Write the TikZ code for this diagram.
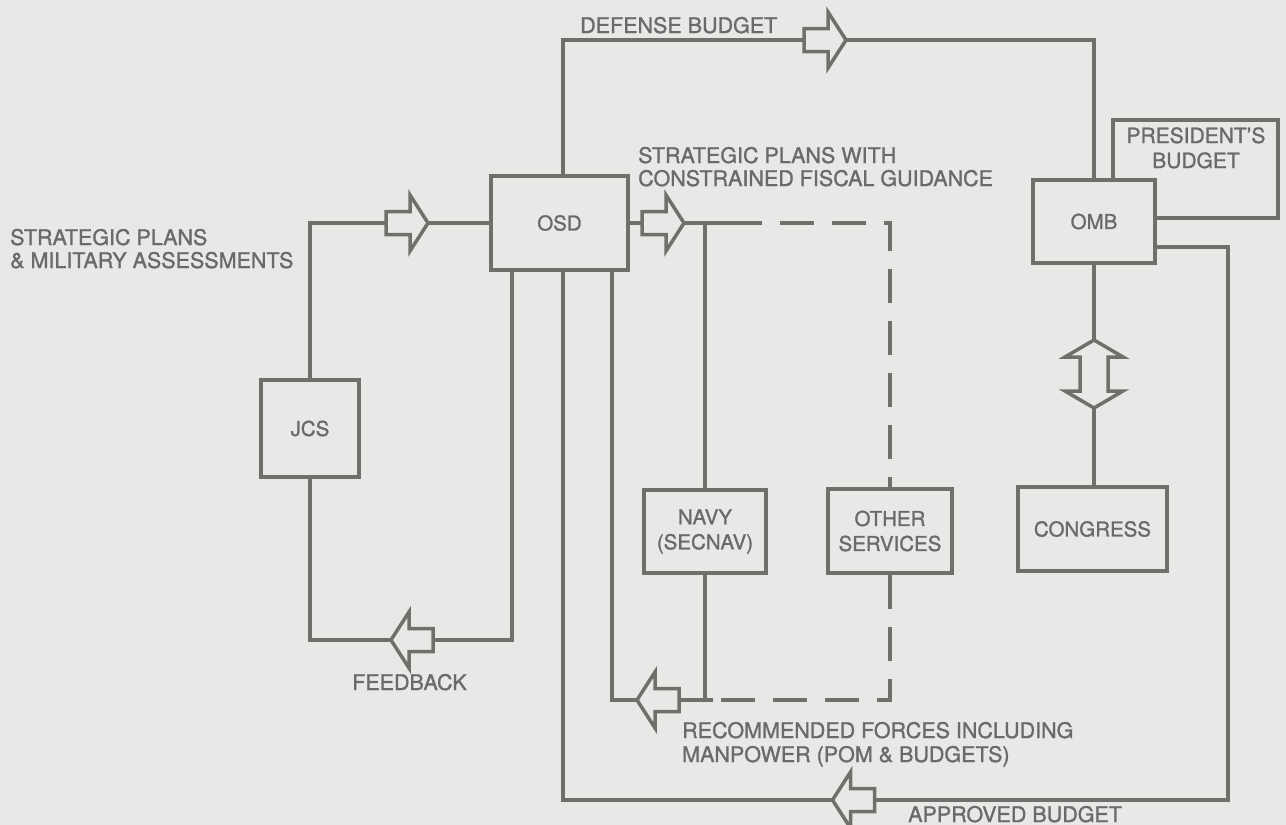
\documentclass[tikz,border=0pt]{standalone}
\usepackage{fontspec}
\setmainfont{TeX Gyre Heros}[FakeBold=1.2]
\definecolor{bgc}{HTML}{E8E9E7}
\definecolor{linec}{HTML}{6E706B}
\definecolor{txtc}{HTML}{6A6A6A}
\tikzset{
  conn/.style={draw=linec, line width=3.5pt},
  dconn/.style={conn, dash pattern=on 34pt off 18pt},
  box/.style={draw=linec, line width=3.8pt, fill=bgc, rectangle, inner sep=0pt,
              text=txtc, font=\fontsize{20.5}{25}\selectfont, align=center},
  lbl/.style={text=txtc, font=\fontsize{21.5}{25}\selectfont, inner sep=0pt},
  arrowshape/.style={draw=linec, line width=3.5pt, fill=bgc, line join=miter},
  barrow/.pic={\draw[arrowshape] (-21,-11.5) -- (3,-11.5) -- (3,-28) -- (21,0)
      -- (3,28) -- (3,11.5) -- (-21,11.5) -- cycle;},
  dbarrow/.pic={\draw[arrowshape] (0,-34) -- (29,-17) -- (14,-17) -- (14,17)
      -- (29,17) -- (0,34) -- (-29,17) -- (-14,17) -- (-14,-17) -- (-29,-17) -- cycle;}
}
\begin{document}
\begin{tikzpicture}[x=1pt, y=-1pt]
\useasboundingbox (0,0) rectangle (1286,825);
\fill[bgc] (0,0) rectangle (1286,825);

% boxes
\node[box, minimum width=137pt, minimum height=94pt] (osd) at (559.5,223) {OSD};
\node[box, minimum width=98pt, minimum height=97pt] (jcs) at (310,428.5) {JCS};
\node[box, minimum width=122pt, minimum height=83pt] (navy) at (705,531.5) {NAVY\\(SECNAV)};
\node[box, minimum width=124pt, minimum height=84pt] (other) at (890,531) {OTHER\\SERVICES};
\node[box, minimum width=149pt, minimum height=84pt] (congress) at (1092.5,529) {CONGRESS};
\node[box, minimum width=165pt, minimum height=98pt] (pres) at (1195.5,169) {};
\node[box, minimum width=122pt, minimum height=83pt] (omb) at (1094,221.5) {OMB};

% helper coordinates
\coordinate (dbt) at (0,40);
\coordinate (abr) at (1228,800);
\coordinate (fbk) at (0,640);
\coordinate (dst) at (762,223);
\coordinate (dl) at (713,700);
\coordinate (rfl) at (612,700);

% connectors
\draw[conn] ([xshift=3.5pt]osd.north) |- (omb.north |- dbt) -- (omb.north);
\draw[conn] ([yshift=-25.5pt]omb.east) -| (abr) -| ([xshift=3.5pt]osd.south);
\draw[conn] (jcs.north) |- (osd.west);
\draw[conn] ([xshift=-47.5pt]osd.south) |- (jcs.south |- fbk) -- (jcs.south);
\draw[conn] (osd.east) -- (dst);
\draw[conn] (navy.north) -- (navy.north |- osd.east);
\draw[dconn, dash phase=34pt] (dst) -| (other.north);
\draw[dconn] (other.south) |- (dl);
\draw[conn] (navy.south) -- (navy.south |- dl);
\draw[conn] (dl) -- (rfl) -- ([xshift=52.5pt]osd.south);
\draw[conn] (omb.south) -- (omb.south |- congress.north);

% block arrows
\pic at (825,40) {barrow};
\pic at (407,223) {barrow};
\pic at (663,223) {barrow};
\pic[rotate=180] at (412,640) {barrow};
\pic[rotate=180] at (658,700) {barrow};
\pic[rotate=180] at (853.5,800) {barrow};
\pic at (1094,374) {dbarrow};

% labels
\node[lbl, anchor=base west] (dbl) at (580,33) {DEFENSE BUDGET};
\node[lbl, anchor=base west] (sp1) at (10,245) {STRATEGIC PLANS};
\node[lbl, anchor=base west] (sp2) at (10,268) {\& MILITARY ASSESSMENTS};
\node[lbl, anchor=base west] (sw1) at (638,163) {STRATEGIC PLANS WITH};
\node[lbl, anchor=base west] (sw2) at (638,186) {CONSTRAINED FISCAL GUIDANCE};
\node[lbl, anchor=base west] (fbl) at (352,690) {FEEDBACK};
\node[lbl, anchor=base west] (rf1) at (682,738) {RECOMMENDED FORCES INCLUDING};
\node[lbl, anchor=base west] (rf2) at (682,762) {MANPOWER (POM \& BUDGETS)};
\node[lbl, anchor=base west] (abl) at (908,822) {APPROVED BUDGET};
\node[lbl, anchor=base, font=\fontsize{21}{25}\selectfont] (pb1) at (1196,143) {PRESIDENT'S};
\node[lbl, anchor=base, font=\fontsize{21}{25}\selectfont] (pb2) at (1196,168) {BUDGET};
\end{tikzpicture}
\end{document}
